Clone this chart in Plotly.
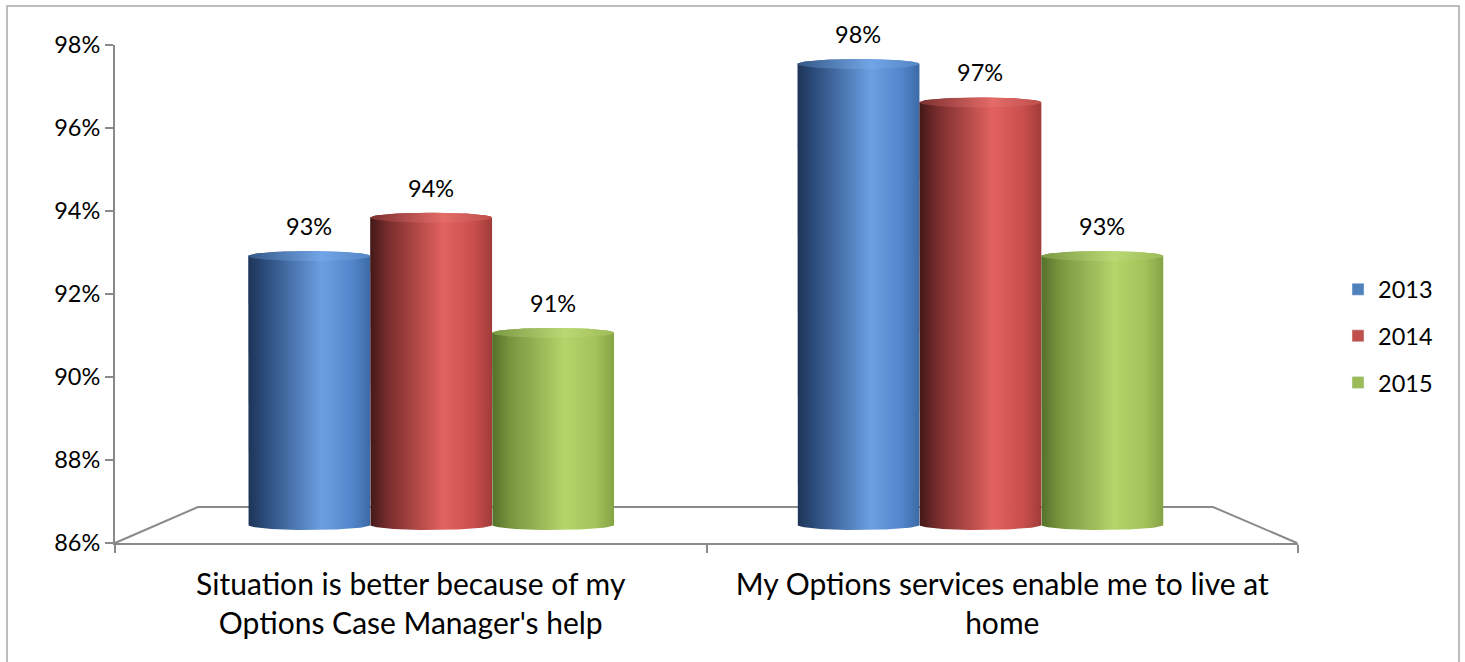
import numpy as np
import plotly.graph_objects as go

# ---- data ----
categories = [
    "Situation is better because of my<br>Options Case Manager's help",
    "My Options services enable me to live at<br>home",
]
years = ["2013", "2014", "2015"]
values_2013 = [0.93, 0.98]
values_2014 = [0.94, 0.97]
values_2015 = [0.91, 0.93]
y_ticks = [0.86, 0.88, 0.90, 0.92, 0.94, 0.96, 0.98]

series_values = [values_2013, values_2014, values_2015]

# ---- styling ----
FONT = "Lato, 'Open Sans', sans-serif"
AXIS_GREY = "#8a8a8a"
legend_colors = ["#4f81bd", "#c0504d", "#9bbb59"]
body_scales = [
    [[0, "#1e3457"], [0.15, "#2d4e7e"], [0.6, "#6a9fe2"], [0.85, "#5287cb"], [1, "#3d6aa6"]],
    [[0, "#431818"], [0.15, "#7a2d2d"], [0.6, "#e2625f"], [0.85, "#c94f4c"], [1, "#a03c3a"]],
    [[0, "#55702a"], [0.15, "#79963f"], [0.6, "#b5d56b"], [0.85, "#a2c25a"], [1, "#86a345"]],
]
cap_scales = [
    [[0, "#345888"], [0.6, "#72a5e6"], [1, "#5486c6"]],
    [[0, "#7e3030"], [0.6, "#e46b68"], [1, "#bf4f4c"]],
    [[0, "#7c9944"], [0.6, "#bad974"], [1, "#9cbb58"]],
]

W, H = 1465, 662


def py(p):
    """pixel row -> paper fraction"""
    return (H - p) / H


# front (visible) axes area
front_x = [115 / W, 1298 / W]
front_y = [py(543), py(45)]

# mid-depth plane where the cylinders stand
mid_x = [156.5 / W, 1255 / W]
mid_range = [0.85, 0.99]
mid_y = [py(563.4), py(25.6)]
units_per_px = (mid_range[1] - mid_range[0]) / (563.4 - 25.6)
ry = 5 * units_per_px           # ellipse half-height
bar_w = 0.222                    # category-units per cylinder
base = 0.86

fig = go.Figure()

theta = np.linspace(0, np.pi, 60)
phi = np.linspace(0, 2 * np.pi, 120)

for s, vals in enumerate(series_values):
    offset = (s - 1) * bar_w
    for c, v in enumerate(vals):
        xc = c + offset
        hw = bar_w / 2
        xs = np.concatenate([
            [xc - hw, xc - hw],
            xc - hw * np.cos(theta),
            [xc + hw],
            xc + hw * np.cos(theta),
        ])
        ys = np.concatenate([
            [v, base],
            base - ry * np.sin(theta),
            [v],
            v + ry * np.sin(theta),
        ])
        fig.add_trace(go.Scatter(
            x=xs, y=ys, xaxis="x2", yaxis="y2", mode="lines",
            line=dict(width=0), fill="toself",
            fillgradient=dict(type="horizontal", colorscale=body_scales[s]),
            hoverinfo="skip", showlegend=False,
        ))
        fig.add_trace(go.Scatter(
            x=xc + hw * np.cos(phi), y=v + ry * np.sin(phi),
            xaxis="x2", yaxis="y2", mode="lines",
            line=dict(width=0), fill="toself",
            fillgradient=dict(type="horizontal", colorscale=cap_scales[s]),
            hoverinfo="skip", showlegend=False,
        ))
        fig.add_annotation(
            x=xc, y=v, xref="x2", yref="y2", text=f"{v:.0%}",
            showarrow=False, yanchor="middle", yshift=30,
            font=dict(family=FONT, size=23.5, color="#000000"),
        )

# legend entries
for s, name in enumerate(years):
    fig.add_trace(go.Bar(
        x=[None], y=[None], name=name, legendgroup=name,
        marker=dict(color=legend_colors[s]),
    ))

# floor outline
floor_pts = [(115, 543), (198, 507), (1213, 507), (1297, 543)]
path = "M " + " L ".join(f"{x / W},{py(y)}" for x, y in floor_pts)
fig.add_shape(type="path", path=path, xref="paper", yref="paper",
              line=dict(color=AXIS_GREY, width=2), layer="below")

# outer chart border
fig.add_shape(type="rect", xref="paper", yref="paper",
              x0=7 / W, x1=1459 / W, y0=-0.02, y1=py(6),
              line=dict(color="#a6a6a6", width=1.5), layer="below")

fig.update_layout(
    width=W, height=H, autosize=False,
    margin=dict(l=0, r=0, t=0, b=0, pad=0, autoexpand=False),
    paper_bgcolor="white", plot_bgcolor="rgba(0,0,0,0)",
    font=dict(family=FONT, color="#000000"),
    showlegend=True,
    legend=dict(
        x=1338 / W, y=py(336), xanchor="left", yanchor="middle",
        font=dict(family=FONT, size=23.5), tracegroupgap=13,
        bgcolor="rgba(0,0,0,0)", traceorder="grouped",
    ),
    xaxis=dict(
        domain=front_x, range=[-0.5, 1.5], anchor="y", automargin=False,
        tickmode="array", tickvals=[0, 1], ticktext=categories,
        ticks="", showgrid=False, zeroline=False, ticklabelstandoff=14,
        showline=True, linecolor=AXIS_GREY, linewidth=2,
        tickfont=dict(family=FONT, size=30),
        minor=dict(tickmode="array", tickvals=[-0.5, 0.5, 1.5],
                   ticks="outside", ticklen=8, tickcolor=AXIS_GREY,
                   tickwidth=2, showgrid=False),
        fixedrange=True,
    ),
    yaxis=dict(
        domain=front_y, range=[0.86, 0.98], anchor="x", automargin=False,
        tickmode="array", tickvals=y_ticks, tickformat=".0%",
        ticks="outside", ticklen=8, tickcolor=AXIS_GREY, tickwidth=2,
        showgrid=False, zeroline=False,
        showline=True, linecolor=AXIS_GREY, linewidth=2,
        tickfont=dict(family=FONT, size=23.5),
        fixedrange=True,
    ),
    xaxis2=dict(domain=mid_x, range=[-0.5, 1.5], anchor="y2",
                visible=False, fixedrange=True, automargin=False),
    yaxis2=dict(domain=mid_y, range=mid_range, anchor="x2",
                visible=False, fixedrange=True, automargin=False),
)

fig.write_html("out.html")
